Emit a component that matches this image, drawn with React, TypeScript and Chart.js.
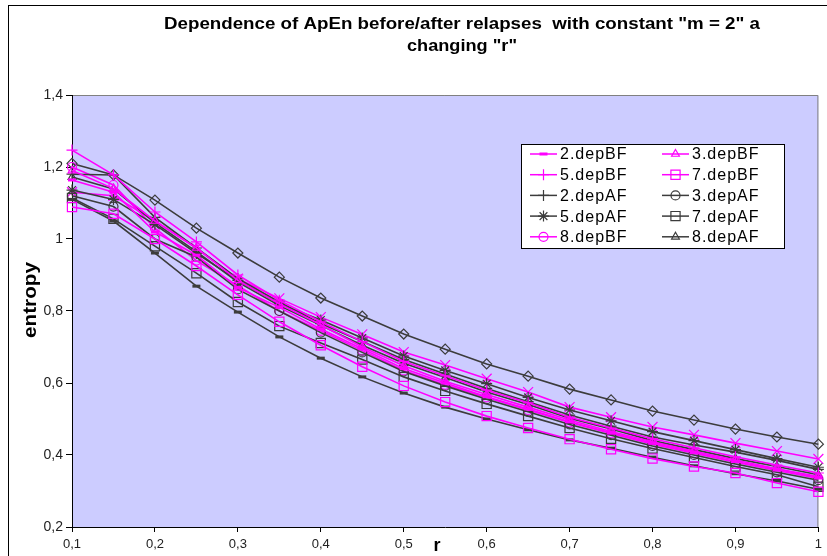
import React, { useEffect, useRef } from 'react';
import { Chart, registerables } from 'chart.js';
import * as helpers from 'chart.js/helpers';

Chart.register(...registerables);

// ---- data ----
const rValues = [0.1, 0.15, 0.2, 0.25, 0.3, 0.35, 0.4, 0.45, 0.5, 0.55, 0.6, 0.65, 0.7, 0.75, 0.8, 0.85, 0.9, 0.95, 1.0];
const xTickValues = [0.1, 0.2, 0.3, 0.4, 0.5, 0.6, 0.7, 0.8, 0.9, 1.0];
const xTickLabels = ['0,1', '0,2', '0,3', '0,4', '0,5', '0,6', '0,7', '0,8', '0,9', '1'];
const yTickValues = [0.2, 0.4, 0.6, 0.8, 1.0, 1.2, 1.4];
const yTickLabels = ['0,2', '0,4', '0,6', '0,8', '1', '1,2', '1,4'];

const dep2BF = [1.164, 1.13, 1.02, 0.955, 0.865, 0.81, 0.75, 0.695, 0.64, 0.6, 0.562, 0.528, 0.492, 0.462, 0.433, 0.407, 0.382, 0.36, 0.338];
const dep3BF = [1.19, 1.14, 1.05, 0.975, 0.885, 0.82, 0.762, 0.7, 0.648, 0.605, 0.568, 0.533, 0.497, 0.465, 0.437, 0.41, 0.386, 0.362, 0.34];
const dep5BF = [1.247, 1.178, 1.075, 0.992, 0.9, 0.83, 0.77, 0.715, 0.66, 0.62, 0.58, 0.545, 0.505, 0.475, 0.445, 0.42, 0.395, 0.372, 0.35];
const dep7BF = [1.089, 1.07, 1.0, 0.925, 0.845, 0.77, 0.705, 0.645, 0.592, 0.547, 0.508, 0.475, 0.444, 0.416, 0.39, 0.368, 0.35, 0.322, 0.298];
const dep8BF = [1.2, 1.15, 1.03, 0.94, 0.87, 0.8, 0.745, 0.69, 0.635, 0.595, 0.56, 0.525, 0.49, 0.46, 0.43, 0.405, 0.38, 0.357, 0.335];
const dep2AF = [1.18, 1.178, 1.06, 0.975, 0.89, 0.825, 0.765, 0.715, 0.665, 0.625, 0.585, 0.548, 0.511, 0.48, 0.45, 0.428, 0.408, 0.385, 0.36];
const dep3AF = [1.12, 1.09, 1.0, 0.95, 0.86, 0.8, 0.74, 0.685, 0.632, 0.592, 0.555, 0.52, 0.485, 0.455, 0.425, 0.4, 0.375, 0.352, 0.33];
const dep5AF = [1.136, 1.11, 1.04, 0.96, 0.885, 0.82, 0.775, 0.725, 0.675, 0.635, 0.598, 0.56, 0.525, 0.495, 0.465, 0.44, 0.415, 0.39, 0.366];
const dep7AF = [1.114, 1.056, 0.98, 0.905, 0.825, 0.758, 0.711, 0.665, 0.617, 0.578, 0.542, 0.508, 0.475, 0.445, 0.418, 0.393, 0.368, 0.345, 0.312];
const dep8AF = [1.172, 1.139, 1.045, 0.965, 0.88, 0.815, 0.76, 0.705, 0.655, 0.615, 0.575, 0.54, 0.502, 0.472, 0.44, 0.415, 0.39, 0.368, 0.345];
// series drawn in the plot but not listed in the legend
const extraDiamond = [1.21, 1.178, 1.108, 1.03, 0.961, 0.894, 0.836, 0.786, 0.736, 0.694, 0.653, 0.619, 0.583, 0.553, 0.522, 0.497, 0.472, 0.45, 0.43];
const extraCross = [1.13, 1.12, 1.05, 0.975, 0.89, 0.835, 0.783, 0.735, 0.686, 0.65, 0.612, 0.575, 0.533, 0.505, 0.478, 0.456, 0.433, 0.411, 0.389];
const extraDash = [1.11, 1.05, 0.961, 0.869, 0.797, 0.728, 0.669, 0.617, 0.572, 0.533, 0.5, 0.47, 0.442, 0.419, 0.394, 0.37, 0.348, 0.328, 0.305];

const titleLines = ['Dependence of ApEn before/after relapses  with constant "m = 2" a', 'changing "r"'];
const yTitle = 'entropy';
const xTitle = 'r';

const MAG = '#ff00ff';
const BLK = '#3c3c3c';

type Series = { label: string; data: number[]; color: string; style: string; radius: number; bw: number; legend: boolean };

const series: Series[] = [
  { label: '2.depBF', data: dep2BF, color: MAG, style: 'line', radius: 4, bw: 3, legend: true },
  { label: '3.depBF', data: dep3BF, color: MAG, style: 'triangle', radius: 4.5, bw: 1.2, legend: true },
  { label: '5.depBF', data: dep5BF, color: MAG, style: 'cross', radius: 5.5, bw: 1.2, legend: true },
  { label: '7.depBF', data: dep7BF, color: MAG, style: 'rect', radius: 6.5, bw: 1.2, legend: true },
  { label: '2.depAF', data: dep2AF, color: BLK, style: 'cross', radius: 5.5, bw: 1.2, legend: true },
  { label: '3.depAF', data: dep3AF, color: BLK, style: 'circle', radius: 4.5, bw: 1.2, legend: true },
  { label: '5.depAF', data: dep5AF, color: BLK, style: 'star', radius: 5.5, bw: 1.2, legend: true },
  { label: '7.depAF', data: dep7AF, color: BLK, style: 'rect', radius: 6.5, bw: 1.2, legend: true },
  { label: '8.depBF', data: dep8BF, color: MAG, style: 'circle', radius: 4.5, bw: 1.2, legend: true },
  { label: '8.depAF', data: dep8AF, color: BLK, style: 'triangle', radius: 4.5, bw: 1.2, legend: true },
  { label: 'extraDiamond', data: extraDiamond, color: BLK, style: 'rectRot', radius: 5, bw: 1.2, legend: false },
  { label: 'extraCross', data: extraCross, color: MAG, style: 'crossRot', radius: 7, bw: 1.2, legend: false },
  { label: 'extraDash', data: extraDash, color: BLK, style: 'line', radius: 4, bw: 3, legend: false },
];

const FONT = '"Liberation Sans", Arial, sans-serif';

function fitText(ctx: CanvasRenderingContext2D, text: string, cx: number, cy: number, target: number, rotate = false) {
  const w = ctx.measureText(text).width;
  const s = w > 0 ? target / w : 1;
  ctx.save();
  ctx.translate(cx, cy);
  if (rotate) ctx.rotate(-Math.PI / 2);
  ctx.scale(s, 1);
  ctx.fillText(text, 0, 0);
  ctx.restore();
}

const decorPlugin = {
  id: 'decor',
  beforeDraw(chart: any) {
    const { ctx, chartArea: a, width, height } = chart;
    ctx.save();
    ctx.fillStyle = '#ffffff';
    ctx.fillRect(0, 0, width, height);
    ctx.strokeStyle = '#000000';
    ctx.lineWidth = 1;
    ctx.strokeRect(8.5, 5.5, width + 20, height + 20);
    ctx.fillStyle = 'rgb(204,204,255)';
    ctx.fillRect(a.left, a.top, a.right - a.left, a.bottom - a.top);
    ctx.strokeStyle = '#808080';
    ctx.beginPath();
    ctx.moveTo(a.left, a.top + 0.5);
    ctx.lineTo(a.right - 0.5, a.top + 0.5);
    ctx.lineTo(a.right - 0.5, a.bottom);
    ctx.stroke();
    ctx.restore();
  },
  afterDraw(chart: any) {
    const { ctx } = chart;
    ctx.save();
    // title
    ctx.fillStyle = '#000';
    ctx.textAlign = 'center';
    ctx.textBaseline = 'middle';
    ctx.font = `bold 16.5px ${FONT}`;
    fitText(ctx, titleLines[0], 462, 24, 596);
    fitText(ctx, titleLines[1], 462, 46, 110);
    // axis titles
    ctx.font = `bold 18px ${FONT}`;
    ctx.fillText(xTitle, 437, 546);
    fitText(ctx, yTitle, 31, 300, 76, true);
    // legend
    const bx = 521, by = 144, bw = 263, bh = 104;
    ctx.fillStyle = '#fff';
    ctx.fillRect(bx, by, bw, bh);
    ctx.strokeStyle = '#000';
    ctx.lineWidth = 1;
    ctx.strokeRect(bx + 0.5, by + 0.5, bw, bh);
    const items = series.filter((s) => s.legend);
    const colLine = [530, 662];
    const colText = [560, 692];
    items.forEach((s, i) => {
      const col = i % 2;
      const row = Math.floor(i / 2);
      const y = 154 + row * 20.7;
      const x0 = colLine[col];
      ctx.strokeStyle = s.color;
      ctx.lineWidth = 1.5;
      ctx.beginPath();
      ctx.moveTo(x0, y);
      ctx.lineTo(x0 + 27, y);
      ctx.stroke();
      ctx.fillStyle = 'rgba(0,0,0,0)';
      ctx.lineWidth = s.bw;
      (helpers as any).drawPoint(ctx, { pointStyle: s.style, radius: s.radius, rotation: 0, borderWidth: s.bw }, x0 + 13.5, y);
      ctx.fillStyle = '#000';
      ctx.textAlign = 'left';
      ctx.textBaseline = 'middle';
      ctx.font = `16px ${FONT}`;
      try { (ctx as any).letterSpacing = '1px'; } catch (e) {}
      ctx.fillText(s.label, colText[col], y + 1);
      try { (ctx as any).letterSpacing = '0px'; } catch (e) {}
    });
    ctx.restore();
  },
};

export default function App() {
  const ref = useRef<HTMLCanvasElement | null>(null);
  useEffect(() => {
    if (!ref.current) return;
    const datasets = series.map((s) => ({
      label: s.label,
      data: rValues.map((x, i) => ({ x, y: s.data[i] })),
      borderColor: s.color,
      backgroundColor: 'rgba(0,0,0,0)',
      borderWidth: 1.6,
      pointStyle: s.style,
      pointRadius: s.radius,
      pointBorderWidth: s.bw,
      pointBorderColor: s.color,
      pointBackgroundColor: 'rgba(0,0,0,0)',
      tension: 0,
      clip: false as any,
      fill: false,
    }));
    const chart = new Chart(ref.current, {
      type: 'line',
      data: { datasets },
      options: {
        animation: false,
        responsive: false,
        devicePixelRatio: 1,
        layout: { padding: { top: 95, right: 6, left: 0, bottom: 0 } },
        plugins: { legend: { display: false }, tooltip: { enabled: false }, title: { display: false } },
        scales: {
          x: {
            type: 'linear',
            min: 0.1,
            max: 1.0,
            afterBuildTicks: (s: any) => { s.ticks = xTickValues.map((v) => ({ value: v })); },
            afterFit: (s: any) => { s.height = 29; },
            ticks: {
              autoSkip: false,
              maxRotation: 0,
              padding: 5,
              color: '#222',
              font: { family: FONT, size: 13 },
              callback: (_v: any, i: number) => xTickLabels[i],
            },
            grid: { drawOnChartArea: false, tickLength: 5, color: '#000', tickColor: '#000' },
            border: { color: '#000', width: 1 },
          },
          y: {
            type: 'linear',
            min: 0.2,
            max: 1.4,
            afterBuildTicks: (s: any) => { s.ticks = yTickValues.map((v) => ({ value: v })); },
            afterFit: (s: any) => { s.width = 72; },
            ticks: {
              padding: 3,
              color: '#222',
              font: { family: FONT, size: 14 },
              callback: (_v: any, i: number) => yTickLabels[i],
            },
            grid: { drawOnChartArea: false, tickLength: 6, color: '#000', tickColor: '#000' },
            border: { color: '#000', width: 1 },
          },
        },
      },
      plugins: [decorPlugin],
    });
    return () => chart.destroy();
  }, []);
  return (
    <div style={{ position: 'fixed', left: 0, top: 0, width: 827, height: 556 }}>
      <canvas ref={ref} width={827} height={556} style={{ display: 'block', width: 827, height: 556 }} />
    </div>
  );
}
